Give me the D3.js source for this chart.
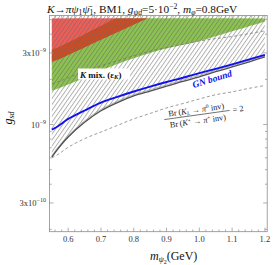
<!DOCTYPE html>
<html>
<head>
<meta charset="utf-8">
<script src="https://cdn.jsdelivr.net/npm/d3@7/dist/d3.min.js"></script>
<style>
  body { margin: 0; background: #fff; }
  text { font-family: "Liberation Serif", "DejaVu Serif", serif; }
</style>
</head>
<body>
<div id="chart"></div>
<script>
'use strict'

const mass = [0.55, 0.57, 0.6, 0.65, 0.7, 0.75, 0.8, 0.85, 0.9, 0.95, 1.0, 1.05, 1.1, 1.15, 1.2];

// g_sd along each curve
const gnBound   = [0.925e-9, 0.978e-9, 1.09e-9, 1.24e-9, 1.40e-9, 1.53e-9, 1.66e-9, 1.79e-9, 1.92e-9, 2.05e-9, 2.20e-9, 2.35e-9, 2.52e-9, 2.71e-9, 2.91e-9];
const hatchLow  = [0.606e-9, 0.695e-9, 0.826e-9, 1.035e-9, 1.235e-9, 1.40e-9, 1.55e-9, 1.67e-9, 1.80e-9, 1.94e-9, 2.08e-9, 2.25e-9, 2.42e-9, 2.61e-9, 2.82e-9];
const ratioLow  = [0.601e-9, 0.634e-9, 0.705e-9, 0.805e-9, 0.891e-9, 0.986e-9, 1.09e-9, 1.185e-9, 1.29e-9, 1.38e-9, 1.48e-9, 1.58e-9, 1.65e-9, 1.74e-9, 1.82e-9];
const ratioHigh = [1.87e-9, 1.93e-9, 2.05e-9, 2.26e-9, 2.46e-9, 2.66e-9, 2.87e-9, 3.09e-9, 3.26e-9, 3.42e-9, 3.60e-9, 3.74e-9, 3.86e-9, 4.03e-9, 4.21e-9];
const kmixLow   = [1.68e-9, 1.74e-9, 1.85e-9, 2.05e-9, 2.28e-9, 2.53e-9, 2.77e-9, 3.00e-9, 3.21e-9, 3.40e-9, 3.60e-9, 3.88e-9, 4.18e-9, 4.51e-9, 4.87e-9];
// these two leave the top of the plot, so only the first masses
const kmixHigh  = [3.15e-9, 3.27e-9, 3.52e-9, 4.0e-9, 4.55e-9, 5.19e-9];
const redLow    = [2.62e-9, 2.71e-9, 2.91e-9, 3.26e-9, 3.67e-9, 4.12e-9, 4.63e-9, 5.21e-9];

const regionTop = 5.1e-9;

const xTicks = [0.6, 0.7, 0.8, 0.9, 1.0, 1.1, 1.2];
const xTickLabels = ['0.6', '0.7', '0.8', '0.9', '1.0', '1.1', '1.2'];
const yTicks = [3e-10, 1e-9, 3e-9];
const yTickLabels = [['3x10', '\u221210'], ['10', '\u22129'], ['3x10', '\u22129']];

const width = 273, height = 265;
const pL = 49.5, pR = 267.2, pT = 15.5, pB = 231.7;

const x = d3.scaleLinear().domain([0.543, 1.207]).range([pL, pR]);
const y = d3.scaleLog().domain([1.93e-10, 5.33e-9]).range([pB, pT]);

const pts = vals => vals.map((v, i) => [mass[i], v]);

const smooth = d3.line()
  .x(d => x(d[0]))
  .y(d => y(d[1]))
  .curve(d3.curveCatmullRom.alpha(0.5));

const svg = d3.select('#chart').append('svg')
  .attr('width', width)
  .attr('height', height);

const defs = svg.append('defs');

defs.append('clipPath').attr('id', 'plot')
  .append('rect')
  .attr('x', pL).attr('y', pT)
  .attr('width', pR - pL).attr('height', pB - pT);

defs.append('clipPath').attr('id', 'cap')
  .append('rect')
  .attr('x', pL).attr('y', y(regionTop))
  .attr('width', pR - pL).attr('height', pB - y(regionTop));

const hatch = defs.append('pattern')
  .attr('id', 'hatch')
  .attr('patternUnits', 'userSpaceOnUse')
  .attr('width', 3.4).attr('height', 10)
  .attr('patternTransform', 'rotate(35)');

hatch.append('line')
  .attr('x1', 0.5).attr('y1', 0).attr('x2', 0.5).attr('y2', 10)
  .attr('stroke', '#6a6a6a')
  .attr('stroke-width', 0.55);

const plot = svg.append('g').attr('clip-path', 'url(#plot)');
const regions = plot.append('g').attr('clip-path', 'url(#cap)');

// green band (kaon mixing)
const kmixPath = smooth(pts(kmixLow))
  + 'L' + x(1.2) + ',' + y(regionTop)
  + smooth(pts(kmixHigh).reverse()).replace(/^M/, 'L') + 'Z';

regions.append('path')
  .attr('d', kmixPath)
  .attr('fill', '#8cc350');

// red region, laid over the green
const redPath = smooth(pts(redLow))
  + 'L' + x(mass[0]) + ',' + y(regionTop) + 'Z';

regions.append('path')
  .attr('d', redPath)
  .attr('fill', '#e8180f')
  .attr('fill-opacity', 0.7);

// hatched region
const hatchPath = smooth(pts(hatchLow))
  + 'L' + x(1.2) + ',' + pT
  + 'L' + x(mass[0]) + ',' + pT + 'Z';

plot.append('path')
  .attr('d', hatchPath)
  .attr('fill', 'url(#hatch)');

// Br ratio contours
[ratioHigh, ratioLow].forEach(vals => {
  plot.append('path')
    .attr('d', smooth(pts(vals)))
    .attr('fill', 'none')
    .attr('stroke', '#707070')
    .attr('stroke-width', 0.7)
    .attr('stroke-dasharray', '3,2.4');
});

plot.append('path')
  .attr('d', smooth(pts(hatchLow)))
  .attr('fill', 'none')
  .attr('stroke', '#9a9a9a')
  .attr('stroke-width', 0.7)
  .attr('transform', 'translate(0,-1.4)');

plot.append('path')
  .attr('d', smooth(pts(hatchLow)))
  .attr('fill', 'none')
  .attr('stroke', '#505050')
  .attr('stroke-width', 1.3);

plot.append('path')
  .attr('d', smooth(pts(gnBound)))
  .attr('fill', 'none')
  .attr('stroke', '#1010f0')
  .attr('stroke-width', 1.9);

// frame
svg.append('rect')
  .attr('x', pL).attr('y', pT)
  .attr('width', pR - pL).attr('height', pB - pT)
  .attr('fill', 'none')
  .attr('stroke', '#8c8c8c')
  .attr('stroke-width', 0.8);

const tickColor = '#8c8c8c';
const ticks = svg.append('g').attr('stroke', tickColor).attr('stroke-width', 0.7);

// x ticks, major and minor, bottom and top
const xMinor = d3.range(0.56, 1.2001, 0.02);
xMinor.forEach(v => {
  const major = xTicks.some(t => Math.abs(t - v) < 1e-6);
  const len = major ? 4 : 2.2;
  ticks.append('line').attr('x1', x(v)).attr('x2', x(v)).attr('y1', pB).attr('y2', pB - len);
  ticks.append('line').attr('x1', x(v)).attr('x2', x(v)).attr('y1', pT).attr('y2', pT + len);
});

// y ticks
const yMinor = [];
[1e-10, 1e-9].forEach(dec => d3.range(1, 10).forEach(k => yMinor.push(k * dec)));
yMinor.filter(v => v >= 1.93e-10 && v <= 5.33e-9).forEach(v => {
  const major = yTicks.some(t => Math.abs(t - v) / t < 1e-6);
  const len = major ? 4 : 2.2;
  ticks.append('line').attr('x1', pL).attr('x2', pL + len).attr('y1', y(v)).attr('y2', y(v));
  ticks.append('line').attr('x1', pR).attr('x2', pR - len).attr('y1', y(v)).attr('y2', y(v));
});

// tick labels
svg.append('g')
  .selectAll('text')
  .data(xTicks)
  .join('text')
  .attr('x', d => x(d))
  .attr('y', 241.5)
  .attr('text-anchor', 'middle')
  .attr('font-size', 8.5)
  .attr('fill', '#333')
  .text((d, i) => xTickLabels[i]);

const yl = svg.append('g')
  .selectAll('text')
  .data(yTicks)
  .join('text')
  .attr('x', 46)
  .attr('y', d => y(d) + 3)
  .attr('text-anchor', 'end')
  .attr('font-size', 8.5)
  .attr('fill', '#333');

yl.append('tspan').text((d, i) => yTickLabels[i][0]);
yl.append('tspan')
  .attr('dy', -3.5)
  .attr('font-size', 6)
  .text((d, i) => yTickLabels[i][1]);

// title
const title = svg.append('text')
  .attr('x', 47)
  .attr('y', 13)
  .attr('font-size', 11.3)
  .attr('fill', '#111');

title.append('tspan').attr('font-style', 'italic').text('K');
title.append('tspan').text('\u2192');
title.append('tspan').attr('font-style', 'italic').text('\u03c0\u03c8');
title.append('tspan').attr('font-size', 7.7).attr('dy', 2).text('1');
title.append('tspan').attr('font-style', 'italic').attr('dy', -2).text('\u03c8\u0304');
title.append('tspan').attr('font-size', 7.7).attr('dy', 2).text('1');
title.append('tspan').attr('dy', -2).text(', BM1, ');
title.append('tspan').attr('font-style', 'italic').text('g');
title.append('tspan').attr('font-style', 'italic').attr('font-size', 7.7).attr('dy', 2).text('\u03c8d');
title.append('tspan').attr('dy', -2).text('=5\u00b710');
title.append('tspan').attr('font-size', 7.7).attr('dy', -4).text('\u22122');
title.append('tspan').attr('dy', 4).text(', ');
title.append('tspan').attr('font-style', 'italic').text('m');
title.append('tspan').attr('font-style', 'italic').attr('font-size', 7.7).attr('dy', 2).text('\u03c6');
title.append('tspan').attr('dy', -2).text('=0.8GeV');

// axis labels
const xl = svg.append('text')
  .attr('x', 150)
  .attr('y', 260)
  .attr('font-size', 12)
  .attr('fill', '#111');
xl.append('tspan').attr('font-style', 'italic').text('m');
xl.append('tspan').attr('font-style', 'italic').attr('font-size', 8).attr('dy', 2).text('\u03c8');
xl.append('tspan').attr('font-size', 6).attr('dy', 1.5).text('2');
xl.append('tspan').attr('dy', -3.5).text('(GeV)');

const ylab = svg.append('text')
  .attr('transform', 'translate(12,118) rotate(-90)')
  .attr('text-anchor', 'middle')
  .attr('font-size', 12)
  .attr('fill', '#111');
ylab.append('tspan').attr('font-style', 'italic').text('g');
ylab.append('tspan').attr('font-style', 'italic').attr('font-size', 8).attr('dy', 2).text('sd');

// in-plot labels
svg.append('rect')
  .attr('x', 78).attr('y', 68.5)
  .attr('width', 52).attr('height', 11)
  .attr('fill', '#fff');

const km = svg.append('text')
  .attr('x', 80)
  .attr('y', 77.5)
  .attr('font-size', 9)
  .attr('font-weight', 'bold')
  .attr('fill', '#111');
km.append('tspan').attr('font-style', 'italic').text('K');
km.append('tspan').text(' mix. (\u03b5');
km.append('tspan').attr('font-style', 'italic').attr('font-size', 6.5).attr('dy', 1.5).text('K');
km.append('tspan').attr('dy', -1.5).text(')');

svg.append('text')
  .attr('transform', 'translate(213,82) rotate(-17)')
  .attr('text-anchor', 'middle')
  .attr('font-size', 9.5)
  .attr('font-weight', 'bold')
  .attr('font-style', 'italic')
  .attr('fill', '#1010f0')
  .text('GN bound');

const frac = svg.append('g')
  .attr('transform', 'translate(197,115) rotate(-8)');

frac.append('line')
  .attr('x1', -33).attr('x2', 33)
  .attr('stroke', '#222').attr('stroke-width', 0.6);

const num = frac.append('text')
  .attr('y', -2.5)
  .attr('text-anchor', 'middle')
  .attr('font-size', 8.3)
  .attr('fill', '#222');
num.append('tspan').text('Br\u2009(');
num.append('tspan').attr('font-style', 'italic').text('K');
num.append('tspan').attr('font-style', 'italic').attr('font-size', 5.5).attr('dy', 1.5).text('L');
num.append('tspan').attr('dy', -1.5).text(' \u2192 ');
num.append('tspan').attr('font-style', 'italic').text('\u03c0');
num.append('tspan').attr('font-size', 5.5).attr('dy', -3).text('0');
num.append('tspan').attr('dy', 3).text(' inv)');

const den = frac.append('text')
  .attr('y', 8.8)
  .attr('text-anchor', 'middle')
  .attr('font-size', 8.3)
  .attr('fill', '#222');
den.append('tspan').text('Br\u2009(');
den.append('tspan').attr('font-style', 'italic').text('K');
den.append('tspan').attr('font-size', 5.5).attr('dy', -3).text('+');
den.append('tspan').attr('dy', 3).text(' \u2192 ');
den.append('tspan').attr('font-style', 'italic').text('\u03c0');
den.append('tspan').attr('font-size', 5.5).attr('dy', -3).text('+');
den.append('tspan').attr('dy', 3).text(' inv)');

frac.append('text')
  .attr('x', 36).attr('y', 2.5)
  .attr('font-size', 8.3)
  .attr('fill', '#222')
  .text('= 2');
</script>
</body>
</html>
